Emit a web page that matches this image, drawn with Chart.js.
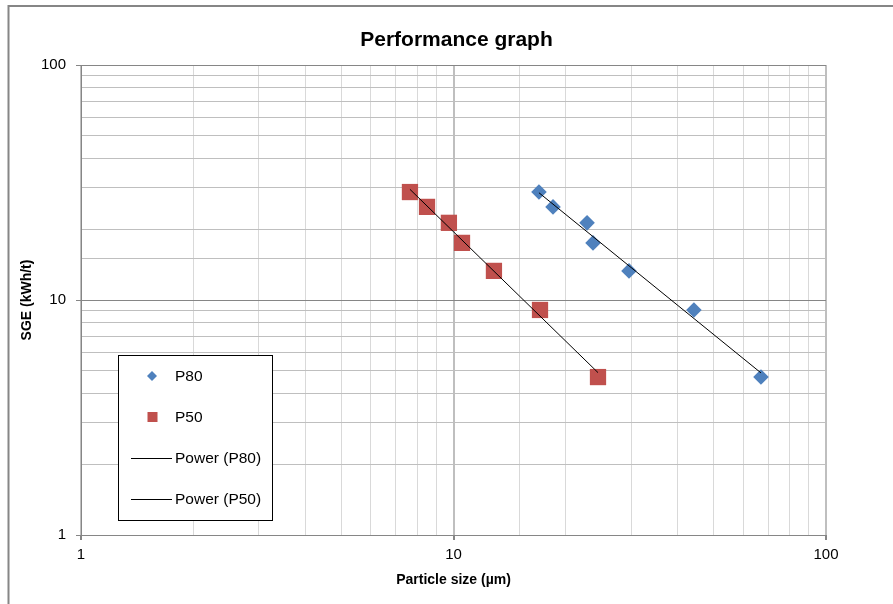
<!DOCTYPE html>
<html><head><meta charset="utf-8">
<script src="https://cdn.jsdelivr.net/npm/chart.js@4.4.1/dist/chart.umd.min.js"></script>
<style>html,body{margin:0;padding:0;background:#fff}#wrap{width:893px;height:604px;position:relative}</style>
</head><body><div id="wrap"><canvas id="c" width="893" height="604"></canvas></div>
<script>
const chartTitle = 'Performance graph';
const xAxisTitle = 'Particle size (µm)';
const yAxisTitle = 'SGE (kWh/t)';
const seriesNames = ['P80', 'P50', 'Power (P80)', 'Power (P50)'];
const sge = [28.8, 24.9, 21.3, 17.5, 13.3, 9.07, 4.70];
const p80 = [16.96, 18.50, 22.83, 23.69, 29.59, 44.2, 66.9];
const p50 = [7.64, 8.49, 9.72, 10.54, 12.84, 17.07, 24.43];
const axisMin = 1, axisMax = 100;

const FONT = "'Liberation Sans', Arial, sans-serif";
const BLUE = '#4f81bd', RED = '#c0504d';

function isMajor(v) { const l = Math.log10(v); return Math.abs(l - Math.round(l)) < 1e-9; }

// Power trendline (least squares on log-log), like a spreadsheet "Power" trendline
function powerTrend(xs, ys) {
  const n = xs.length;
  const lx = xs.map(Math.log10), ly = ys.map(Math.log10);
  const mx = lx.reduce((a, b) => a + b, 0) / n, my = ly.reduce((a, b) => a + b, 0) / n;
  let sxy = 0, sxx = 0;
  for (let i = 0; i < n; i++) { sxy += (lx[i] - mx) * (ly[i] - my); sxx += (lx[i] - mx) ** 2; }
  const b = sxy / sxx, a = my - b * mx;
  const xmin = Math.min(...xs), xmax = Math.max(...xs);
  return [xmin, xmax].map(x => ({ x, y: Math.pow(10, a + b * Math.log10(x)) }));
}

const pts = (xs, ys) => xs.map((x, i) => ({ x, y: ys[i] }));

const framePlugin = {
  id: 'frame',
  beforeDraw(chart) {
    const c = chart.ctx;
    c.save();
    c.fillStyle = '#fff';
    c.fillRect(0, 0, chart.width, chart.height);
    c.strokeStyle = '#868686';
    c.lineWidth = 2;
    c.strokeRect(8.5, 6, 1000, 1000);
    c.restore();
  },
  afterDraw(chart) {
    const c = chart.ctx, a = chart.chartArea;
    c.save();
    // title
    c.fillStyle = '#000';
    c.font = "bold 21px " + FONT;
    c.textAlign = 'center';
    c.textBaseline = 'middle';
    c.fillText(chartTitle, (a.left + a.right) / 2 + 3, 40);
    // legend box
    const bx = 118.5, by = 355.5, bw = 154, bh = 165;
    c.fillStyle = '#fff';
    c.fillRect(bx, by, bw, bh);
    c.strokeStyle = '#000';
    c.lineWidth = 1;
    c.strokeRect(bx, by, bw, bh);
    const rows = [376, 417, 458, 499];
    const ds = chart.data.datasets;
    c.font = "15.5px " + FONT;
    c.textAlign = 'left';
    rows.forEach((ry, i) => {
      const d = ds[i];
      if (i === 0) {
        c.fillStyle = d.backgroundColor;
        c.beginPath();
        c.moveTo(152, ry - 5); c.lineTo(157, ry); c.lineTo(152, ry + 5); c.lineTo(147, ry);
        c.closePath(); c.fill();
      } else if (i === 1) {
        c.fillStyle = d.backgroundColor;
        c.fillRect(147.5, ry - 5, 10, 10);
      } else {
        c.strokeStyle = d.borderColor;
        c.lineWidth = 1;
        c.beginPath(); c.moveTo(131, ry + 0.5); c.lineTo(172, ry + 0.5); c.stroke();
      }
      c.fillStyle = '#000';
      c.fillText(d.label, 175, ry + 1);
    });
    c.restore();
  }
};

new Chart(document.getElementById('c'), {
  type: 'scatter',
  data: {
    datasets: [
      { label: seriesNames[0], data: pts(p80, sge), pointStyle: 'rectRot', pointRadius: 7.8, pointHoverRadius: 7.8,
        backgroundColor: BLUE, borderColor: BLUE, borderWidth: 0, order: 2 },
      { label: seriesNames[1], data: pts(p50, sge), pointStyle: 'rect', pointRadius: 11.5, pointHoverRadius: 11.5,
        backgroundColor: RED, borderColor: RED, borderWidth: 0, order: 2 },
      { label: seriesNames[2], data: powerTrend(p80, sge), showLine: true, pointRadius: 0, pointHoverRadius: 0,
        borderColor: '#000', borderWidth: 1, backgroundColor: '#000', order: 0 },
      { label: seriesNames[3], data: powerTrend(p50, sge), showLine: true, pointRadius: 0, pointHoverRadius: 0,
        borderColor: '#000', borderWidth: 1, backgroundColor: '#000', order: 0 }
    ]
  },
  options: {
    responsive: false, animation: false, devicePixelRatio: 1,
    layout: { padding: { left: 0, right: 67, top: 65, bottom: 0 } },
    plugins: { legend: { display: false }, title: { display: false }, tooltip: { enabled: false } },
    events: [],
    scales: {
      x: {
        type: 'logarithmic', min: axisMin, max: axisMax, position: 'bottom',
        afterFit: s => { s.height = 69; },
        ticks: { autoSkip: false, maxRotation: 0, padding: 6, color: '#000', font: { family: FONT, size: 15 },
          callback: v => isMajor(v) ? String(v) : '' },
        grid: {
          color: c => isMajor(c.tick.value) ? '#bfbfbf' : '#d9d9d9',
          lineWidth: c => isMajor(c.tick.value) ? 2 : 1,
          tickColor: c => isMajor(c.tick.value) ? '#868686' : 'rgba(0,0,0,0)',
          tickLength: 5, drawTicks: true
        },
        border: { color: '#868686', width: 1 },
        title: { display: true, text: xAxisTitle, color: '#000', font: { family: FONT, size: 14, weight: 'bold' },
          padding: { top: 0, bottom: 15 } }
      },
      y: {
        type: 'logarithmic', min: axisMin, max: axisMax, position: 'left',
        afterFit: s => { s.width = 81; },
        ticks: { autoSkip: false, padding: 10, color: '#000', font: { family: FONT, size: 15 },
          callback: v => isMajor(v) ? String(v) : '' },
        grid: {
          color: c => isMajor(c.tick.value) ? '#868686' : '#bfbfbf',
          lineWidth: 1,
          tickColor: c => isMajor(c.tick.value) ? '#868686' : 'rgba(0,0,0,0)',
          tickLength: 5, drawTicks: true
        },
        border: { color: '#868686', width: 1 },
        title: { display: true, text: yAxisTitle, color: '#000', font: { family: FONT, size: 14, weight: 'bold' },
          padding: { top: 19, bottom: 0 } }
      }
    }
  },
  plugins: [framePlugin]
});
</script>
</body></html>
